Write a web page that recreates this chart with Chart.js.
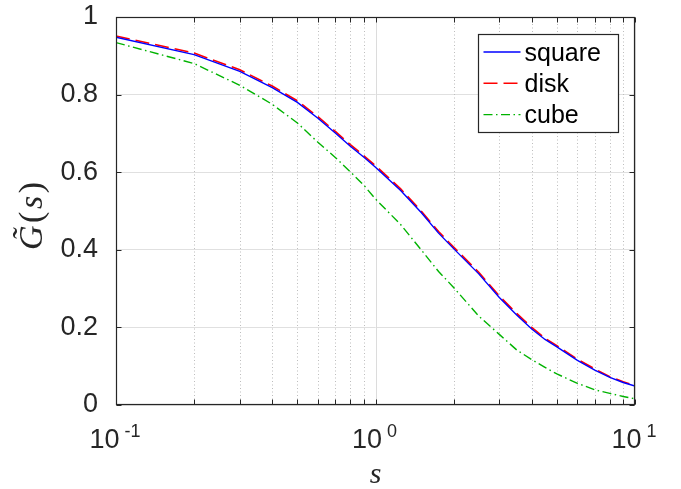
<!DOCTYPE html>
<html lang="en">
<head>
  <meta charset="UTF-8">
  <title>G(s)</title>
  <style>
    html, body { margin: 0; padding: 0; background: #fff; }
    .canvas-con { width: 681px; height: 489px; }
  </style>
</head>
<body>
  <div class="canvas-con">
    <canvas id="myChart" width="681" height="489"></canvas>
  </div>

  <script src="https://cdn.jsdelivr.net/npm/chart.js"></script>
  <script>
  // values
  const sValues = [0.1, 0.2, 0.3, 0.4, 0.5, 0.6, 0.7, 0.8, 0.9, 1, 1.25, 1.5, 1.75, 2, 2.5, 3, 3.5, 4, 4.5, 5, 6, 7, 8, 9, 10]
  const squareG = [0.948, 0.903, 0.860, 0.818, 0.780, 0.739, 0.701, 0.667, 0.639, 0.613, 0.553, 0.496, 0.443, 0.403, 0.338, 0.277, 0.232, 0.196, 0.169, 0.150, 0.115, 0.090, 0.071, 0.058, 0.049]
  const diskG   = [0.951, 0.907, 0.864, 0.822, 0.784, 0.743, 0.705, 0.671, 0.643, 0.617, 0.557, 0.500, 0.447, 0.407, 0.342, 0.281, 0.236, 0.200, 0.172, 0.153, 0.118, 0.093, 0.073, 0.060, 0.050]
  const cubeG   = [0.934, 0.880, 0.824, 0.775, 0.727, 0.677, 0.638, 0.601, 0.567, 0.531, 0.465, 0.400, 0.344, 0.303, 0.229, 0.182, 0.142, 0.117, 0.097, 0.080, 0.056, 0.039, 0.030, 0.022, 0.016]
  const seriesNames = ['square', 'disk', 'cube']

  const xDecades = [0.1, 1, 10]
  const xDecadeExp = ['-1', '0', '1']
  const xMinor = [0.2, 0.3, 0.4, 0.5, 0.6, 0.7, 0.8, 0.9, 2, 3, 4, 5, 6, 7, 8, 9]
  const yTicks = [0, 0.2, 0.4, 0.6, 0.8, 1]

  const AX = '#262626'
  const SANS = '"Liberation Sans", Arial, sans-serif'
  const SERIF = '"Liberation Serif", "Times New Roman", serif'

  const line = (ctx, x1, y1, x2, y2) => {
    ctx.beginPath()
    ctx.moveTo(x1, y1)
    ctx.lineTo(x2, y2)
    ctx.stroke()
  }

  const matlabAxes = {
    id: 'matlabAxes',
    beforeDatasetsDraw: (chart) => {
      const {ctx, chartArea: a, scales: {x}} = chart
      ctx.save()
      ctx.lineWidth = 1
      ctx.strokeStyle = '#dcdcdc'
      xDecades.forEach(v => {
        const px = Math.round(x.getPixelForValue(v)) + 0.5
        line(ctx, px, a.top, px, a.bottom)
      })
      ctx.strokeStyle = '#bdbdbd'
      ctx.setLineDash([1, 2.5])
      xMinor.forEach(v => {
        const px = Math.round(x.getPixelForValue(v)) + 0.5
        line(ctx, px, a.top, px, a.bottom)
      })
      ctx.restore()
    },
    afterDatasetsDraw: (chart) => {
      const {ctx, chartArea: a, scales: {x, y}} = chart
      const L = Math.round(a.left) + 0.5, R = Math.round(a.right) - 0.5
      const T = Math.round(a.top) + 0.5, B = Math.round(a.bottom) - 0.5
      const tl = 5
      ctx.save()
      ctx.strokeStyle = AX
      ctx.lineWidth = 1
      // ticks
      xDecades.concat(xMinor).forEach(v => {
        const px = Math.round(x.getPixelForValue(v)) + 0.5
        line(ctx, px, B, px, B - tl)
        line(ctx, px, T, px, T + tl)
      })
      yTicks.forEach(v => {
        const py = Math.round(y.getPixelForValue(v)) + 0.5
        line(ctx, L, py, L + tl, py)
        line(ctx, R, py, R - tl, py)
      })
      ctx.lineWidth = 1.2
      ctx.strokeRect(L, T, R - L, B - T)

      // legend
      const bx = Math.round(a.right) - 156.5, by = Math.round(a.top) + 17.5
      const bw = 140, bh = 98
      ctx.fillStyle = '#fff'
      ctx.fillRect(bx, by, bw, bh)
      ctx.strokeStyle = AX
      ctx.lineWidth = 1.2
      ctx.strokeRect(bx, by, bw, bh)
      ctx.font = '25px ' + SANS
      ctx.textAlign = 'left'
      ctx.textBaseline = 'alphabetic'
      chart.data.datasets.forEach((ds, i) => {
        const ly = by + 17.5 + i * 31.3
        ctx.strokeStyle = ds.borderColor
        ctx.lineWidth = ds.borderWidth
        ctx.setLineDash(ds.borderDash)
        line(ctx, bx + 5, ly, bx + 42, ly)
        ctx.setLineDash([])
        ctx.fillStyle = '#000'
        ctx.fillText(ds.label, bx + 46, ly + 8.5)
      })
      ctx.restore()
    },
    afterDraw: (chart) => {
      const {ctx, chartArea: a, scales: {x}} = chart
      ctx.save()
      ctx.fillStyle = AX
      ctx.textBaseline = 'alphabetic'
      ctx.textAlign = 'left'
      // x tick labels 10^n
      xDecades.forEach((v, i) => {
        const px = x.getPixelForValue(v)
        ctx.font = '27px ' + SANS
        const wb = ctx.measureText('10').width
        ctx.font = '18px ' + SANS
        const we = ctx.measureText(xDecadeExp[i]).width
        const gap = 5
        const x0 = px - (wb + gap + we) / 2 - 1
        ctx.font = '27px ' + SANS
        ctx.fillText('10', x0, a.bottom + 43)
        ctx.font = '18px ' + SANS
        ctx.fillText(xDecadeExp[i], x0 + wb + gap, a.bottom + 32)
      })
      // x title
      ctx.font = 'italic 30px ' + SERIF
      ctx.textAlign = 'center'
      ctx.fillText('s', (a.left + a.right) / 2, 483)
      // y title G~(s)
      ctx.translate(42, 216)
      ctx.rotate(-Math.PI / 2)
      const parts = [['G\u0303', 'italic 34px '], ['(', '34px '], ['s', 'italic 34px '], [')', '34px ']]
      const gapT = 2.5
      let total = 0
      const widths = parts.map(p => {
        ctx.font = p[1] + SERIF
        const w = ctx.measureText(p[0]).width
        total += w
        return w
      })
      total += gapT * (parts.length - 1)
      let cx = -total / 2
      ctx.textAlign = 'left'
      parts.forEach((p, i) => {
        ctx.font = p[1] + SERIF
        ctx.fillText(p[0], cx, 0)
        cx += widths[i] + gapT
      })
      ctx.restore()
    }
  }

  const toPoints = (vals) => sValues.map((s, i) => ({x: s, y: vals[i]}))

  let myChart = new Chart(document.getElementById('myChart'), {
    type: 'line',
    data: {
      datasets: [
        {label: seriesNames[0], data: toPoints(squareG), borderColor: '#0000ff', borderWidth: 1.4, borderDash: [], pointRadius: 0, tension: 0},
        {label: seriesNames[1], data: toPoints(diskG), borderColor: '#ff0000', borderWidth: 1.6, borderDash: [14, 6], pointRadius: 0, tension: 0},
        {label: seriesNames[2], data: toPoints(cubeG), borderColor: '#00b300', borderWidth: 1.4, borderDash: [9, 3.5, 1.5, 3.5], pointRadius: 0, tension: 0}
      ]
    },
    options: {
      responsive: false,
      animation: false,
      layout: {padding: {top: 0, right: 46, left: 0, bottom: 0}},
      plugins: {
        legend: {display: false},
        tooltip: {enabled: false}
      },
      scales: {
        x: {
          type: 'logarithmic',
          min: 0.1,
          max: 10,
          grid: {display: false},
          ticks: {display: false},
          border: {display: false},
          afterFit: (s) => { s.height = 84 }
        },
        y: {
          min: 0,
          max: 1,
          ticks: {
            stepSize: 0.2,
            padding: 18,
            color: AX,
            font: {family: SANS, size: 27},
            callback: (v) => String(Number(v.toFixed(1)))
          },
          grid: {color: '#e0e0e0', lineWidth: 1, drawTicks: false},
          border: {display: false},
          afterFit: (s) => {
            s.width = 116
            s.paddingTop = 17
            s.paddingBottom = 0
          }
        }
      }
    },
    plugins: [matlabAxes]
  })
  </script>
</body>
</html>
